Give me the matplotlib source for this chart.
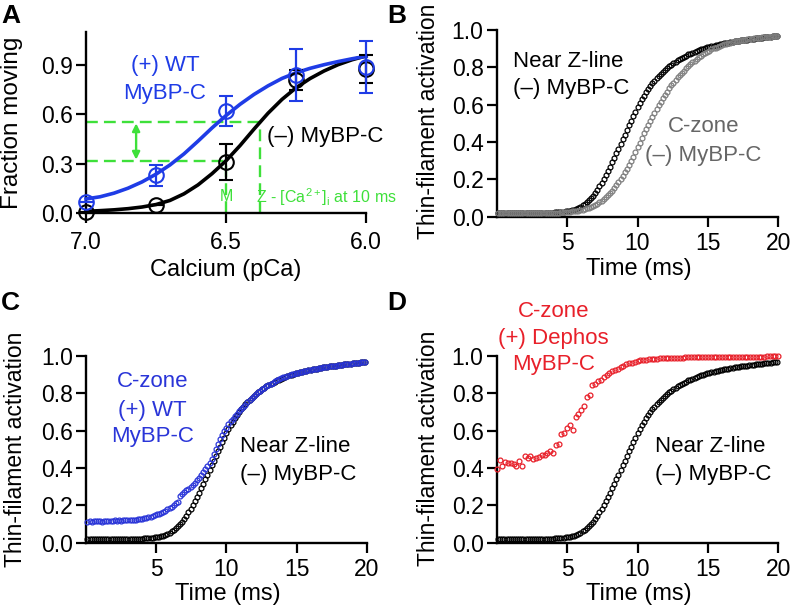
import numpy as np
import matplotlib
matplotlib.use("Agg")
import matplotlib.pyplot as plt

plt.rcParams['font.family'] = ['Liberation Sans', 'DejaVu Sans']
plt.rcParams['mathtext.fontset'] = 'custom'
plt.rcParams['mathtext.rm'] = 'Liberation Sans'
plt.rcParams['mathtext.it'] = 'Liberation Sans:italic'
plt.rcParams['mathtext.bf'] = 'Liberation Sans:bold'

# ---------------- Panel A data ----------------
pca = [7.0, 6.75, 6.5, 6.25, 6.0]
frac_minus = [0.01, 0.05, 0.31, 0.805, 0.876]
err_minus = [0.0, 0.0, 0.11, 0.06, 0.085]
frac_plus = [0.07, 0.23, 0.62, 0.84, 0.886]
err_plus = [0.0, 0.065, 0.09, 0.158, 0.16]

fit_pca = [7.00, 6.95, 6.90, 6.85, 6.80, 6.75, 6.70, 6.65, 6.60, 6.55, 6.50,
           6.45, 6.40, 6.35, 6.30, 6.25, 6.20, 6.15, 6.10, 6.05, 6.00]
fit_minus = [0.012, 0.016, 0.021, 0.028, 0.038, 0.053, 0.078, 0.118, 0.172, 0.240, 0.318,
             0.410, 0.510, 0.606, 0.690, 0.760, 0.816, 0.862, 0.900, 0.930, 0.953]
fit_plus = [0.087, 0.100, 0.122, 0.152, 0.190, 0.237, 0.293, 0.360, 0.437, 0.517, 0.592,
            0.660, 0.720, 0.772, 0.817, 0.851, 0.878, 0.900, 0.919, 0.936, 0.951]

ca_m_level = 0.316
ca_z_level = 0.555
ca_m_pca = 6.5
ca_z_pca = 6.379

# ---------------- Time-course data (panels B-D) ----------------
t_start = 0.1
t_step = 0.15
near_z = [
    0.020, 0.019, 0.020, 0.020, 0.021, 0.020, 0.020, 0.020, 0.021, 0.020,
    0.020, 0.020, 0.021, 0.020, 0.021, 0.021, 0.020, 0.021, 0.021, 0.021,
    0.021, 0.021, 0.022, 0.021, 0.022, 0.022, 0.022, 0.023, 0.023, 0.024,
    0.025, 0.026, 0.028, 0.030, 0.032, 0.035, 0.038, 0.042, 0.047, 0.053,
    0.060, 0.068, 0.077, 0.087, 0.098, 0.111, 0.126, 0.143, 0.162, 0.182,
    0.203, 0.224, 0.246, 0.268, 0.291, 0.315, 0.340, 0.365, 0.390, 0.415,
    0.440, 0.465, 0.490, 0.514, 0.538, 0.562, 0.585, 0.607, 0.628, 0.648,
    0.667, 0.684, 0.700, 0.715, 0.728, 0.741, 0.753, 0.765, 0.776, 0.786,
    0.796, 0.805, 0.814, 0.822, 0.830, 0.837, 0.844, 0.851, 0.857, 0.863,
    0.869, 0.874, 0.879, 0.884, 0.888, 0.892, 0.896, 0.900, 0.904, 0.907,
    0.910, 0.913, 0.916, 0.919, 0.922, 0.924, 0.927, 0.929, 0.931, 0.933,
    0.935, 0.937, 0.939, 0.941, 0.942, 0.944, 0.945, 0.947, 0.948, 0.950,
    0.952, 0.953, 0.955, 0.956, 0.958, 0.959, 0.961, 0.962, 0.964, 0.965,
    0.967, 0.968, 0.970]
czone_minus = [
    0.020, 0.020, 0.019, 0.020, 0.020, 0.021, 0.020, 0.020, 0.020, 0.021,
    0.020, 0.020, 0.020, 0.021, 0.020, 0.020, 0.021, 0.020, 0.021, 0.021,
    0.021, 0.020, 0.021, 0.021, 0.021, 0.022, 0.021, 0.022, 0.022, 0.022,
    0.023, 0.023, 0.024, 0.025, 0.026, 0.028, 0.030, 0.031, 0.033, 0.036,
    0.038, 0.041, 0.044, 0.047, 0.051, 0.056, 0.062, 0.069, 0.077, 0.086,
    0.095, 0.105, 0.115, 0.127, 0.140, 0.153, 0.170, 0.185, 0.201, 0.218,
    0.237, 0.257, 0.278, 0.300, 0.322, 0.346, 0.375, 0.396, 0.422, 0.447,
    0.470, 0.493, 0.515, 0.536, 0.557, 0.577, 0.597, 0.616, 0.634, 0.651,
    0.670, 0.687, 0.703, 0.718, 0.732, 0.746, 0.759, 0.771, 0.783, 0.794,
    0.805, 0.816, 0.826, 0.836, 0.845, 0.854, 0.862, 0.870, 0.877, 0.884,
    0.890, 0.896, 0.901, 0.906, 0.911, 0.915, 0.919, 0.923, 0.927, 0.930,
    0.933, 0.936, 0.939, 0.941, 0.943, 0.945, 0.947, 0.949, 0.951, 0.952,
    0.954, 0.955, 0.956, 0.958, 0.959, 0.960, 0.961, 0.962, 0.963, 0.964,
    0.966, 0.967, 0.968]
czone_wt = [
    0.112, 0.115, 0.113, 0.116, 0.114, 0.117, 0.115, 0.113, 0.116, 0.117,
    0.115, 0.118, 0.116, 0.119, 0.117, 0.120, 0.118, 0.121, 0.119, 0.120,
    0.122, 0.121, 0.124, 0.123, 0.126, 0.128, 0.127, 0.131, 0.133, 0.136,
    0.140, 0.143, 0.147, 0.152, 0.156, 0.161, 0.166, 0.172, 0.178, 0.185,
    0.192, 0.200, 0.210, 0.220, 0.250, 0.262, 0.272, 0.280, 0.290, 0.300,
    0.310, 0.322, 0.335, 0.348, 0.362, 0.378, 0.393, 0.410, 0.428, 0.447,
    0.475, 0.500, 0.527, 0.553, 0.577, 0.598, 0.617, 0.634, 0.650, 0.664,
    0.678, 0.691, 0.704, 0.716, 0.728, 0.740, 0.752, 0.764, 0.775, 0.786,
    0.796, 0.806, 0.815, 0.823, 0.831, 0.838, 0.845, 0.852, 0.858, 0.864,
    0.870, 0.875, 0.880, 0.885, 0.889, 0.893, 0.897, 0.901, 0.904, 0.907,
    0.910, 0.913, 0.916, 0.919, 0.922, 0.924, 0.927, 0.929, 0.931, 0.933,
    0.935, 0.937, 0.939, 0.941, 0.942, 0.944, 0.945, 0.947, 0.948, 0.950,
    0.952, 0.953, 0.955, 0.956, 0.958, 0.959, 0.961, 0.962, 0.964, 0.965,
    0.967, 0.968, 0.970]

dephos_start = 0.0
dephos_step = 0.2
czone_dephos = [
    0.395, 0.443, 0.410, 0.430, 0.425, 0.427, 0.420, 0.410, 0.440, 0.410,
    0.464, 0.452, 0.464, 0.450, 0.455, 0.460, 0.468, 0.472, 0.478, 0.490,
    0.482, 0.522, 0.528, 0.582, 0.586, 0.613, 0.630, 0.604, 0.675, 0.690,
    0.712, 0.732, 0.778, 0.790, 0.845, 0.852, 0.865, 0.874, 0.886, 0.898,
    0.908, 0.917, 0.926, 0.933, 0.941, 0.948, 0.955, 0.961, 0.965, 0.970,
    0.973, 0.976, 0.978, 0.980, 0.982, 0.984, 0.985, 0.986, 0.987, 0.988,
    0.989, 0.989, 0.990, 0.990, 0.991, 0.991, 0.991, 0.992, 0.992, 0.992,
    0.993, 0.993, 0.993, 0.993, 0.994, 0.994, 0.994, 0.994, 0.995, 0.995,
    0.995, 0.995, 0.995, 0.996, 0.996, 0.996, 0.996, 0.996, 0.996, 0.997,
    0.997, 0.997, 0.997, 0.997, 0.997, 0.997, 0.998, 0.998, 0.998, 0.998,
    0.998]

t_grid = t_start + t_step * np.arange(len(near_z))
t_dephos = dephos_start + dephos_step * np.arange(len(czone_dephos))

# ---------------- colours ----------------
BLACK = '#000000'
GREY = '#7f7f7f'
BLUE_A = '#1f3ce6'
BLUE_C = '#2a35d8'
RED = '#e8202a'
GREEN = '#3ee03a'

TICK_FS = 16.5
NOTE_FS = 16
LABEL_FS = 17

W, H = 791, 610
fig = plt.figure(figsize=(W / 100, H / 100), dpi=100)


def px_axes(left, top, right, bottom):
    return fig.add_axes([left / W, 1 - bottom / H, (right - left) / W, (bottom - top) / H])


def style(ax, xpad, ypad):
    for s in ['top', 'right']:
        ax.spines[s].set_visible(False)
    for s in ['left', 'bottom']:
        ax.spines[s].set_linewidth(1.7)
    ax.tick_params(direction='out', length=7, width=1.6, labelsize=TICK_FS)
    ax.tick_params(axis='x', pad=xpad)
    ax.tick_params(axis='y', pad=ypad)


# ---------------- Panel A ----------------
axA = px_axes(86, 31.7, 366, 213.3)
axA.set_xlim(7.0, 6.0)
axA.set_ylim(0, 1.1)
axA.plot(fit_pca, fit_minus, color=BLACK, lw=2.6, clip_on=False, zorder=3)
axA.plot(fit_pca, fit_plus, color=BLUE_A, lw=2.6, clip_on=False, zorder=3)
axA.errorbar(pca, frac_minus, yerr=err_minus, fmt='o', ms=10.5, mfc='none', mec=BLACK,
             mew=1.5, ecolor=BLACK, elinewidth=1.6, capsize=5, capthick=1.6,
             clip_on=False, zorder=4)
axA.errorbar(pca, frac_plus, yerr=err_plus, fmt='o', ms=10.5, mfc='none', mec=BLUE_A,
             mew=1.5, ecolor=BLUE_A, elinewidth=1.6, capsize=5, capthick=1.6,
             clip_on=False, zorder=5)
dash = (0, (5, 2.6))
axA.plot([7.0, ca_z_pca], [ca_z_level, ca_z_level], color=GREEN, lw=1.7, ls=dash, zorder=2)
axA.plot([7.0, ca_m_pca], [ca_m_level, ca_m_level], color=GREEN, lw=1.7, ls=dash, zorder=2)
axA.plot([ca_m_pca, ca_m_pca], [0, ca_m_level], color=GREEN, lw=1.7, ls=dash, zorder=2)
axA.plot([ca_z_pca, ca_z_pca], [0, ca_z_level], color=GREEN, lw=1.7, ls=dash, zorder=2)
axA.annotate('', xy=(6.821, 0.545), xytext=(6.821, 0.325),
             arrowprops=dict(arrowstyle='<|-|>', color=GREEN, lw=1.7, mutation_scale=11,
                             shrinkA=0, shrinkB=0))
axA.text(ca_m_pca, 0.10, 'M', color=GREEN, fontsize=11.5, ha='center', va='center')
axA.text(6.393, 0.10, r'Z - [Ca$^{2+}$]$_{\mathrm{i}}$ at 10 ms', color=GREEN, fontsize=11.5,
         ha='left', va='center', clip_on=False)
axA.text(6.718, 0.896, '(+) WT', color=BLUE_A, fontsize=NOTE_FS, ha='center', va='center')
axA.text(6.718, 0.725, 'MyBP-C', color=BLUE_A, fontsize=NOTE_FS, ha='center', va='center')
axA.text(6.355, 0.463, '(\u2013) MyBP-C', color=BLACK, fontsize=NOTE_FS, ha='left', va='center')
axA.set_xticks([7.0, 6.5, 6.0])
axA.set_xticklabels(['7.0', '6.5', '6.0'])
axA.set_yticks([0.0, 0.3, 0.6, 0.9])
axA.set_yticklabels(['0.0', '0.3', '0.6', '0.9'])
style(axA, 5.5, 2.5)
axA.set_xlabel('Calcium (pCa)', fontsize=LABEL_FS)
axA.xaxis.set_label_coords(0.5, -0.25)
axA.set_ylabel('Fraction moving', fontsize=17.5)
axA.yaxis.set_label_coords(-0.225, 0.5)


def time_panel(rect, xpad):
    ax = px_axes(*rect)
    ax.set_xlim(0, 20)
    ax.set_ylim(0, 1.0)
    ax.set_xticks([5, 10, 15, 20])
    ax.set_xticklabels(['5', '10', '15', '20'])
    ax.set_yticks([0.0, 0.2, 0.4, 0.6, 0.8, 1.0])
    ax.set_yticklabels(['0.0', '0.2', '0.4', '0.6', '0.8', '1.0'])
    style(ax, xpad, 2.5)
    ax.set_xlabel('Time (ms)', fontsize=LABEL_FS)
    ax.set_ylabel('Thin-filament activation', fontsize=16.5)
    return ax


mk = dict(ls='none', marker='o', ms=3.5, mfc='none', mew=0.9, clip_on=False)

# ---------------- Panel B ----------------
axB = time_panel((496.7, 30, 778.3, 216.7), 4.3)
axB.plot(t_grid, near_z, color=BLACK, mec=BLACK, zorder=3, **mk)
axB.plot(t_grid, czone_minus, color=GREY, mec=GREY, zorder=4, **mk)
axB.text(1.15, 0.83, 'Near Z-line', color=BLACK, fontsize=NOTE_FS, ha='left', va='center')
axB.text(1.15, 0.688, '(\u2013) MyBP-C', color=BLACK, fontsize=NOTE_FS, ha='left', va='center')
axB.text(14.7, 0.482, 'C-zone', color='#666666', fontsize=NOTE_FS, ha='center', va='center')
axB.text(14.7, 0.33, '(\u2013) MyBP-C', color='#666666', fontsize=NOTE_FS, ha='center', va='center')
axB.xaxis.set_label_coords(0.505, -0.22)
axB.yaxis.set_label_coords(-0.2, 0.51)

# ---------------- Panel C ----------------
axC = time_panel((86, 356, 366.7, 542.7), 4.3)
axC.plot(t_grid, near_z, color=BLACK, mec=BLACK, zorder=3, **mk)
axC.plot(t_grid, czone_wt, color=BLUE_C, mec=BLUE_C, zorder=4, **mk)
axC.text(4.74, 0.862, 'C-zone', color=BLUE_C, fontsize=NOTE_FS, ha='center', va='center')
axC.text(4.74, 0.71, '(+) WT', color=BLUE_C, fontsize=NOTE_FS, ha='center', va='center')
axC.text(4.74, 0.567, 'MyBP-C', color=BLUE_C, fontsize=NOTE_FS, ha='center', va='center')
axC.text(10.94, 0.514, 'Near Z-line', color=BLACK, fontsize=NOTE_FS, ha='left', va='center')
axC.text(10.94, 0.363, '(\u2013) MyBP-C', color=BLACK, fontsize=NOTE_FS, ha='left', va='center')
axC.xaxis.set_label_coords(0.506, -0.215)
axC.yaxis.set_label_coords(-0.21, 0.5)

# ---------------- Panel D ----------------
axD = time_panel((496.7, 356, 778.3, 542.7), 4.3)
axD.plot(t_grid, near_z, color=BLACK, mec=BLACK, zorder=3, **mk)
axD.plot(t_dephos, czone_dephos, color=RED, mec=RED, zorder=4, **mk)
axD.text(4.05, 1.237, 'C-zone', color=RED, fontsize=NOTE_FS, ha='center', va='center', clip_on=False)
axD.text(4.05, 1.095, '(+) Dephos', color=RED, fontsize=NOTE_FS, ha='center', va='center', clip_on=False)
axD.text(4.05, 0.952, 'MyBP-C', color=RED, fontsize=NOTE_FS, ha='center', va='center', clip_on=False)
axD.text(11.24, 0.514, 'Near Z-line', color=BLACK, fontsize=NOTE_FS, ha='left', va='center')
axD.text(11.24, 0.363, '(\u2013) MyBP-C', color=BLACK, fontsize=NOTE_FS, ha='left', va='center')
axD.xaxis.set_label_coords(0.505, -0.215)
axD.yaxis.set_label_coords(-0.2, 0.507)

# ---------------- Panel letters ----------------
for lab, x, y in [('A', 1, 4), ('B', 387, 4), ('C', 1, 291), ('D', 387, 291)]:
    fig.text(x / W, 1 - y / H, lab, fontsize=19, fontweight='bold', ha='left', va='top')

fig.savefig('out.png', dpi=100)
